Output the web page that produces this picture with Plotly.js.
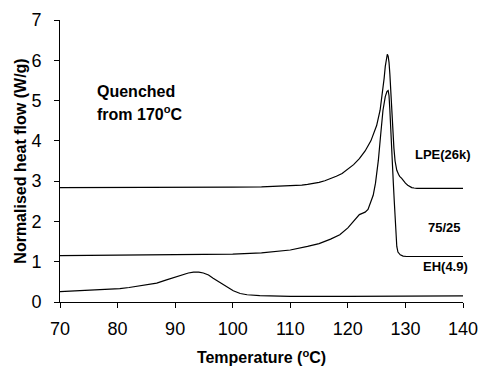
<!DOCTYPE html>
<html>
<head>
<meta charset="utf-8">
<script src="https://cdn.plot.ly/plotly-3.0.1.min.js"></script>
<style>html,body{margin:0;padding:0;background:#fff;} #chart{width:480px;height:369px;}</style>
</head>
<body>
<div id="chart"></div>
<script>
// LPE(26k)
const lpeT = [70, 80, 90, 100, 105, 108, 110, 112, 113, 114, 115, 116, 117, 118, 119, 120, 121, 122, 123, 124, 125, 125.6, 126.0, 126.3, 126.5, 126.7, 126.85, 127.0, 127.15, 127.3, 127.45, 127.6, 127.8, 128.0, 128.2, 128.5, 128.8, 129.0, 129.35, 129.7, 130.0, 130.4, 130.8, 131.1, 131.5, 132, 135, 140];
const lpeQ = [2.84, 2.84, 2.845, 2.85, 2.86, 2.87, 2.88, 2.90, 2.92, 2.94, 2.97, 3.01, 3.06, 3.12, 3.19, 3.29, 3.41, 3.56, 3.75, 4.0, 4.38, 4.76, 5.15, 5.55, 5.85, 6.08, 6.15, 6.1, 5.95, 5.65, 5.2, 4.7, 4.2, 3.82, 3.5, 3.27, 3.17, 3.12, 3.07, 3.0, 2.95, 2.9, 2.86, 2.84, 2.83, 2.82, 2.82, 2.82];
// 75/25 blend
const blendT = [70, 80, 90, 100, 105, 110, 113, 115, 117, 118.6, 120, 121, 121.5, 122, 122.5, 123, 123.5, 124, 124.4, 124.8, 125.3, 125.7, 126.1, 126.5, 126.8, 127.0, 127.15, 127.3, 127.45, 127.6, 127.75, 127.9, 128.05, 128.2, 128.35, 128.5, 128.7, 128.9, 129.1, 129.6, 130.2, 135, 140];
const blendQ = [1.15, 1.16, 1.17, 1.19, 1.22, 1.29, 1.38, 1.45, 1.56, 1.67, 1.84, 2.0, 2.1, 2.17, 2.2, 2.23, 2.3, 2.52, 2.65, 2.95, 3.52, 4.15, 4.76, 5.1, 5.23, 5.25, 5.12, 4.76, 4.2, 3.65, 3.3, 2.95, 2.53, 2.12, 1.75, 1.38, 1.24, 1.19, 1.17, 1.14, 1.13, 1.13, 1.13];
// EH(4.9)
const ehT = [70, 72, 74, 76, 78, 80.4, 82, 83.9, 85.5, 86.8, 88.5, 90.3, 91.4, 92.3, 93.2, 94.1, 94.9, 95.8, 96.6, 97.5, 98.4, 99.3, 100.1, 101.3, 102.5, 104.7, 107, 110, 120, 130, 140];
const ehQ = [0.26, 0.27, 0.28, 0.29, 0.31, 0.33, 0.36, 0.40, 0.44, 0.47, 0.55, 0.63, 0.69, 0.72, 0.74, 0.74, 0.72, 0.67, 0.59, 0.51, 0.43, 0.35, 0.28, 0.21, 0.18, 0.16, 0.15, 0.14, 0.14, 0.15, 0.15];

const seriesNames = ["LPE(26k)", "75/25", "EH(4.9)"];
const xTicks = [70, 80, 90, 100, 110, 120, 130, 140];
const yTicks = [0, 1, 2, 3, 4, 5, 6, 7];

const font = "Liberation Sans, Arial, Helvetica, sans-serif";
const line = {color: "#000", width: 1.2};
const data = [
  {x: lpeT, y: lpeQ, name: seriesNames[0], mode: "lines", line: line},
  {x: blendT, y: blendQ, name: seriesNames[1], mode: "lines", line: line},
  {x: ehT, y: ehQ, name: seriesNames[2], mode: "lines", line: line}
];

const annFont = {family: font, size: 13, color: "#000", weight: "bold"};
const layout = {
  width: 480, height: 369,
  margin: {l: 60, r: 17, t: 19.5, b: 66.7},
  paper_bgcolor: "#fff", plot_bgcolor: "#fff",
  showlegend: false,
  font: {family: font, color: "#000"},
  xaxis: {
    range: [70, 140], tickvals: xTicks, ticktext: xTicks.map(String),
    showline: true, linecolor: "#000", linewidth: 1,
    ticks: "outside", ticklen: 5, tickcolor: "#000", tickwidth: 1,
    showgrid: false, zeroline: false,
    tickfont: {family: font, size: 18, color: "#000"},
    ticklabelstandoff: 5,
    title: {text: "Temperature (<sup>o</sup>C)", font: {family: font, size: 16, color: "#000", weight: "bold"}, standoff: 14}
  },
  yaxis: {
    range: [0, 7], tickvals: yTicks, ticktext: yTicks.map(String),
    showline: true, linecolor: "#000", linewidth: 1,
    ticks: "outside", ticklen: 5, tickcolor: "#000", tickwidth: 1,
    showgrid: false, zeroline: false,
    tickfont: {family: font, size: 18, color: "#000"},
    ticklabelstandoff: 9,
    title: {text: "Normalised heat flow (W/g)", font: {family: font, size: 16, color: "#000", weight: "bold"}, standoff: 0}
  },
  annotations: [
    {x: 76.1, y: 5.23, xref: "x", yref: "y", xanchor: "left", yanchor: "middle", showarrow: false, text: "Quenched", font: {family: font, size: 16, color: "#000", weight: "bold"}},
    {x: 76.1, y: 4.7, xref: "x", yref: "y", xanchor: "left", yanchor: "middle", showarrow: false, text: "from 170<sup>o</sup>C", font: {family: font, size: 16, color: "#000", weight: "bold"}},
    {x: 131.3, y: 3.65, xref: "x", yref: "y", xanchor: "left", yanchor: "middle", showarrow: false, text: seriesNames[0], font: annFont},
    {x: 133.6, y: 1.84, xref: "x", yref: "y", xanchor: "left", yanchor: "middle", showarrow: false, text: seriesNames[1], font: annFont},
    {x: 132.7, y: 0.87, xref: "x", yref: "y", xanchor: "left", yanchor: "middle", showarrow: false, text: seriesNames[2], font: annFont}
  ]
};
Plotly.newPlot("chart", data, layout, {displayModeBar: false, staticPlot: true});
</script>
</body>
</html>
